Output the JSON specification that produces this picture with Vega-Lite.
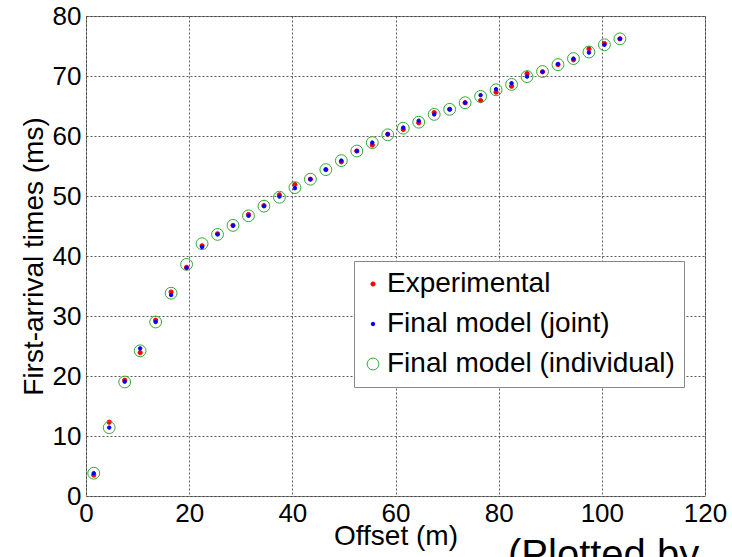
{
  "$schema": "https://vega.github.io/schema/vega-lite/v6.json",
  "autosize": {"type": "none"},
  "width": 619,
  "height": 480,
  "padding": {"left": 86, "top": 16, "right": 27, "bottom": 61},
  "background": "white",
  "title": {"text": "(Plotted by", "orient": "bottom", "anchor": "start", "frame": "group", "dx": 422, "offset": -14, "fontSize": 40, "font": "Liberation Sans", "fontWeight": "normal", "color": "black", "baseline": "top"},
  "config": {
    "view": {"stroke": "#888888", "strokeWidth": 1},
    "font": "Liberation Sans",
    "axis": {"domain": false, "ticks": false, "grid": true, "gridColor": "#333333", "gridDash": [2, 2], "gridOpacity": 0.8, "gridWidth": 1, "labelFont": "Liberation Sans", "labelFontSize": 26, "labelColor": "black", "titleFont": "Liberation Sans", "titleFontSize": 28, "titleFontWeight": "normal", "titleColor": "black"},
    "legend": {"orient": "none", "legendX": 268, "legendY": 245, "fillColor": "white", "strokeColor": "#888888", "padding": 9, "labelFont": "Liberation Sans", "labelFontSize": 28, "labelColor": "black", "labelOffset": 0, "symbolOffset": -4, "rowPadding": 12, "labelLimit": 400, "symbolStrokeWidth": 1}
  },
  "data": {"values": [
    {"offset": 1.5, "time": 3.5, "series": "Experimental"},
    {"offset": 4.5, "time": 12.3, "series": "Experimental"},
    {"offset": 7.5, "time": 19.3, "series": "Experimental"},
    {"offset": 10.5, "time": 23.9, "series": "Experimental"},
    {"offset": 13.5, "time": 29.3, "series": "Experimental"},
    {"offset": 16.5, "time": 34.0, "series": "Experimental"},
    {"offset": 19.5, "time": 38.1, "series": "Experimental"},
    {"offset": 22.5, "time": 41.7, "series": "Experimental"},
    {"offset": 25.5, "time": 43.7, "series": "Experimental"},
    {"offset": 28.5, "time": 45.1, "series": "Experimental"},
    {"offset": 31.5, "time": 46.9, "series": "Experimental"},
    {"offset": 34.5, "time": 48.4, "series": "Experimental"},
    {"offset": 37.5, "time": 50.2, "series": "Experimental"},
    {"offset": 40.5, "time": 51.9, "series": "Experimental"},
    {"offset": 43.5, "time": 52.8, "series": "Experimental"},
    {"offset": 46.5, "time": 54.4, "series": "Experimental"},
    {"offset": 49.5, "time": 55.7, "series": "Experimental"},
    {"offset": 52.5, "time": 57.5, "series": "Experimental"},
    {"offset": 55.5, "time": 58.5, "series": "Experimental"},
    {"offset": 58.5, "time": 60.3, "series": "Experimental"},
    {"offset": 61.5, "time": 61.1, "series": "Experimental"},
    {"offset": 64.5, "time": 62.2, "series": "Experimental"},
    {"offset": 67.5, "time": 63.9, "series": "Experimental"},
    {"offset": 70.5, "time": 64.45, "series": "Experimental"},
    {"offset": 73.5, "time": 65.55, "series": "Experimental"},
    {"offset": 76.5, "time": 65.9, "series": "Experimental"},
    {"offset": 79.5, "time": 67.3, "series": "Experimental"},
    {"offset": 82.5, "time": 68.3, "series": "Experimental"},
    {"offset": 85.5, "time": 70.4, "series": "Experimental"},
    {"offset": 88.5, "time": 70.7, "series": "Experimental"},
    {"offset": 91.5, "time": 71.9, "series": "Experimental"},
    {"offset": 94.5, "time": 72.7, "series": "Experimental"},
    {"offset": 97.5, "time": 74.55, "series": "Experimental"},
    {"offset": 100.5, "time": 75.4, "series": "Experimental"},
    {"offset": 103.5, "time": 76.2, "series": "Experimental"},
    {"offset": 1.5, "time": 3.8, "series": "Final model (joint)"},
    {"offset": 4.5, "time": 11.4, "series": "Final model (joint)"},
    {"offset": 7.5, "time": 19.05, "series": "Final model (joint)"},
    {"offset": 10.5, "time": 24.6, "series": "Final model (joint)"},
    {"offset": 13.5, "time": 29.0, "series": "Final model (joint)"},
    {"offset": 16.5, "time": 33.5, "series": "Final model (joint)"},
    {"offset": 19.5, "time": 38.0, "series": "Final model (joint)"},
    {"offset": 22.5, "time": 41.5, "series": "Final model (joint)"},
    {"offset": 25.5, "time": 43.6, "series": "Final model (joint)"},
    {"offset": 28.5, "time": 45.05, "series": "Final model (joint)"},
    {"offset": 31.5, "time": 46.7, "series": "Final model (joint)"},
    {"offset": 34.5, "time": 48.3, "series": "Final model (joint)"},
    {"offset": 37.5, "time": 49.9, "series": "Final model (joint)"},
    {"offset": 40.5, "time": 51.3, "series": "Final model (joint)"},
    {"offset": 43.5, "time": 52.8, "series": "Final model (joint)"},
    {"offset": 46.5, "time": 54.4, "series": "Final model (joint)"},
    {"offset": 49.5, "time": 55.9, "series": "Final model (joint)"},
    {"offset": 52.5, "time": 57.5, "series": "Final model (joint)"},
    {"offset": 55.5, "time": 58.9, "series": "Final model (joint)"},
    {"offset": 58.5, "time": 60.3, "series": "Final model (joint)"},
    {"offset": 61.5, "time": 61.4, "series": "Final model (joint)"},
    {"offset": 64.5, "time": 62.55, "series": "Final model (joint)"},
    {"offset": 67.5, "time": 63.6, "series": "Final model (joint)"},
    {"offset": 70.5, "time": 64.45, "series": "Final model (joint)"},
    {"offset": 73.5, "time": 65.55, "series": "Final model (joint)"},
    {"offset": 76.5, "time": 66.8, "series": "Final model (joint)"},
    {"offset": 79.5, "time": 67.8, "series": "Final model (joint)"},
    {"offset": 82.5, "time": 68.8, "series": "Final model (joint)"},
    {"offset": 85.5, "time": 69.9, "series": "Final model (joint)"},
    {"offset": 88.5, "time": 70.7, "series": "Final model (joint)"},
    {"offset": 91.5, "time": 72.0, "series": "Final model (joint)"},
    {"offset": 94.5, "time": 72.9, "series": "Final model (joint)"},
    {"offset": 97.5, "time": 73.9, "series": "Final model (joint)"},
    {"offset": 100.5, "time": 75.2, "series": "Final model (joint)"},
    {"offset": 103.5, "time": 76.2, "series": "Final model (joint)"},
    {"offset": 1.5, "time": 3.8, "series": "Final model (individual)"},
    {"offset": 4.5, "time": 11.4, "series": "Final model (individual)"},
    {"offset": 7.5, "time": 19.0, "series": "Final model (individual)"},
    {"offset": 10.5, "time": 24.2, "series": "Final model (individual)"},
    {"offset": 13.5, "time": 29.0, "series": "Final model (individual)"},
    {"offset": 16.5, "time": 33.8, "series": "Final model (individual)"},
    {"offset": 19.5, "time": 38.6, "series": "Final model (individual)"},
    {"offset": 22.5, "time": 42.05, "series": "Final model (individual)"},
    {"offset": 25.5, "time": 43.6, "series": "Final model (individual)"},
    {"offset": 28.5, "time": 45.1, "series": "Final model (individual)"},
    {"offset": 31.5, "time": 46.7, "series": "Final model (individual)"},
    {"offset": 34.5, "time": 48.3, "series": "Final model (individual)"},
    {"offset": 37.5, "time": 49.8, "series": "Final model (individual)"},
    {"offset": 40.5, "time": 51.4, "series": "Final model (individual)"},
    {"offset": 43.5, "time": 52.8, "series": "Final model (individual)"},
    {"offset": 46.5, "time": 54.4, "series": "Final model (individual)"},
    {"offset": 49.5, "time": 55.9, "series": "Final model (individual)"},
    {"offset": 52.5, "time": 57.5, "series": "Final model (individual)"},
    {"offset": 55.5, "time": 58.9, "series": "Final model (individual)"},
    {"offset": 58.5, "time": 60.2, "series": "Final model (individual)"},
    {"offset": 61.5, "time": 61.3, "series": "Final model (individual)"},
    {"offset": 64.5, "time": 62.3, "series": "Final model (individual)"},
    {"offset": 67.5, "time": 63.6, "series": "Final model (individual)"},
    {"offset": 70.5, "time": 64.45, "series": "Final model (individual)"},
    {"offset": 73.5, "time": 65.55, "series": "Final model (individual)"},
    {"offset": 76.5, "time": 66.6, "series": "Final model (individual)"},
    {"offset": 79.5, "time": 67.7, "series": "Final model (individual)"},
    {"offset": 82.5, "time": 68.6, "series": "Final model (individual)"},
    {"offset": 85.5, "time": 69.9, "series": "Final model (individual)"},
    {"offset": 88.5, "time": 70.75, "series": "Final model (individual)"},
    {"offset": 91.5, "time": 71.9, "series": "Final model (individual)"},
    {"offset": 94.5, "time": 72.9, "series": "Final model (individual)"},
    {"offset": 97.5, "time": 74.0, "series": "Final model (individual)"},
    {"offset": 100.5, "time": 75.2, "series": "Final model (individual)"},
    {"offset": 103.5, "time": 76.2, "series": "Final model (individual)"}
  ]},
  "mark": {"type": "point", "strokeWidth": 1, "opacity": 1},
  "encoding": {
    "x": {"field": "offset", "type": "quantitative", "scale": {"domain": [0, 120], "nice": false}, "axis": {"values": [0, 20, 40, 60, 80, 100, 120], "title": "Offset (m)", "labelPadding": 4, "titlePadding": -4, "labelFlush": false}},
    "y": {"field": "time", "type": "quantitative", "scale": {"domain": [0, 80], "nice": false}, "axis": {"values": [0, 10, 20, 30, 40, 50, 60, 70, 80], "title": "First-arrival times (ms)", "labelPadding": 5, "titlePadding": 4, "labelFlush": false}},
    "stroke": {"field": "series", "type": "nominal", "scale": {"domain": ["Experimental", "Final model (joint)", "Final model (individual)"], "range": ["#ff0000", "#0000ff", "#33aa33"]}, "legend": {"title": null}},
    "fill": {"field": "series", "type": "nominal", "scale": {"domain": ["Experimental", "Final model (joint)", "Final model (individual)"], "range": ["#ff0000", "#0000ff", "transparent"]}, "legend": {"title": null}},
    "size": {"field": "series", "type": "nominal", "scale": {"type": "ordinal", "domain": ["Experimental", "Final model (joint)", "Final model (individual)"], "range": [18, 12, 140]}, "legend": {"title": null}}
  }
}
